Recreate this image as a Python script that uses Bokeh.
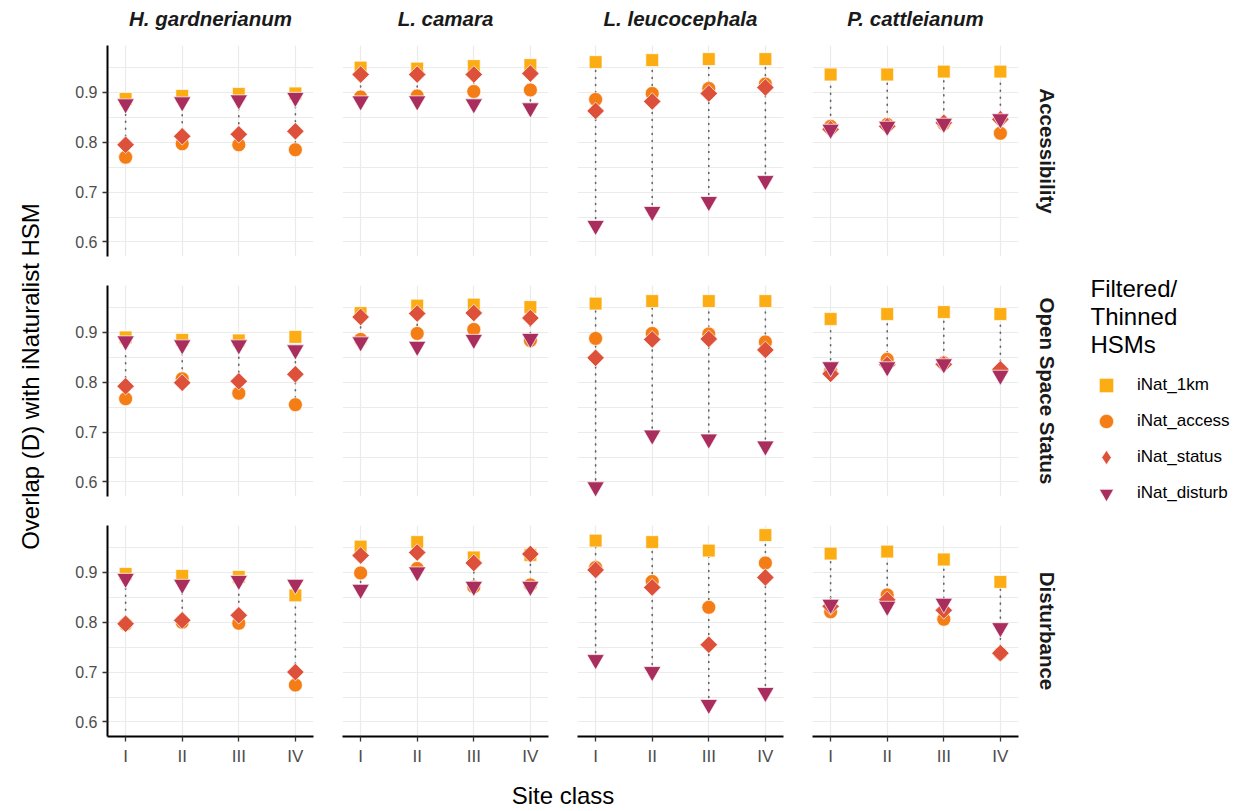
import math
from bokeh.plotting import figure
from bokeh.models import Range1d, FixedTicker, Title, Legend, LegendItem, ColumnDataSource
from bokeh.layouts import gridplot, row, column
from bokeh.embed import file_html
from bokeh.resources import INLINE
from bokeh.core.properties import value

# ---------------- data ----------------
species = ["H. gardnerianum", "L. camara", "L. leucocephala", "P. cattleianum"]
hsm_types = ["Accessibility", "Open Space Status", "Disturbance"]
site_classes = ["I", "II", "III", "IV"]
series_names = ["iNat_1km", "iNat_access", "iNat_status", "iNat_disturb"]
y_ticks = [0.6, 0.7, 0.8, 0.9]
y_tick_labels = ["0.6", "0.7", "0.8", "0.9"]
y_minor = [0.65, 0.75, 0.85, 0.95]
legend_title = ["Filtered/", "Thinned", "HSMs"]

# values ordered: species (4) x site class I..IV
acc_1km     = [0.887, 0.893, 0.897, 0.898, 0.950, 0.948, 0.953, 0.955, 0.961, 0.965, 0.967, 0.967, 0.936, 0.936, 0.942, 0.942]
acc_access  = [0.770, 0.797, 0.795, 0.785, 0.891, 0.893, 0.902, 0.905, 0.886, 0.898, 0.908, 0.917, 0.832, 0.836, 0.837, 0.818]
acc_status  = [0.795, 0.812, 0.816, 0.822, 0.936, 0.936, 0.936, 0.938, 0.863, 0.882, 0.898, 0.910, 0.826, 0.832, 0.839, 0.846]
acc_disturb = [0.877, 0.881, 0.885, 0.890, 0.883, 0.883, 0.877, 0.869, 0.633, 0.661, 0.681, 0.723, 0.826, 0.832, 0.838, 0.847]

os_1km      = [0.890, 0.885, 0.884, 0.891, 0.939, 0.954, 0.956, 0.951, 0.958, 0.963, 0.963, 0.963, 0.927, 0.937, 0.941, 0.937]
os_access   = [0.767, 0.807, 0.778, 0.755, 0.886, 0.898, 0.906, 0.884, 0.888, 0.898, 0.897, 0.881, 0.822, 0.846, 0.839, 0.825]
os_status   = [0.792, 0.799, 0.802, 0.816, 0.931, 0.938, 0.939, 0.929, 0.849, 0.886, 0.887, 0.865, 0.817, 0.835, 0.836, 0.826]
os_disturb  = [0.883, 0.875, 0.875, 0.865, 0.881, 0.872, 0.886, 0.888, 0.590, 0.694, 0.686, 0.672, 0.831, 0.831, 0.837, 0.814]

dist_1km     = [0.897, 0.893, 0.891, 0.854, 0.952, 0.961, 0.930, 0.935, 0.964, 0.961, 0.944, 0.975, 0.938, 0.942, 0.926, 0.881]
dist_access  = [0.796, 0.800, 0.798, 0.674, 0.899, 0.908, 0.871, 0.875, 0.910, 0.882, 0.830, 0.919, 0.821, 0.855, 0.806, 0.738]
dist_status  = [0.797, 0.804, 0.814, 0.700, 0.934, 0.940, 0.919, 0.937, 0.905, 0.870, 0.755, 0.890, 0.832, 0.845, 0.824, 0.738]
dist_disturb = [0.888, 0.876, 0.884, 0.876, 0.866, 0.901, 0.872, 0.872, 0.725, 0.701, 0.635, 0.659, 0.836, 0.832, 0.838, 0.789]

rows_data = [
    [acc_1km, acc_access, acc_status, acc_disturb],
    [os_1km, os_access, os_status, os_disturb],
    [dist_1km, dist_access, dist_status, dist_disturb],
]

# ---------------- style ----------------
FONT = "Liberation Sans"
colors = ["#FCAD14", "#F57D15", "#DD513A", "#A92E5E"]
markers = ["square", "circle", "square", "inverted_triangle"]
legend_markers = ["square", "circle", "diamond", "inverted_triangle"]
angles = [0.0, 0.0, math.pi / 4, 0.0]
sizes = [12.8, 14, 12.4, 17.5]
GRID = "#ebebeb"

all_vals = [v for r in rows_data for s in r for v in s]
lo, hi = min(all_vals), max(all_vals)
pad = 0.05 * (hi - lo)
ylo, yhi = lo - pad, hi + pad

xpos = [i + 1 for i in range(len(site_classes))]

FW, FH = 206, 211
GAP = 29
YLAB_W = 50
LEFT1 = 107 - YLAB_W
STRIP_H = 45
RIGHT4 = 59


def make_panel(r, c):
    left = LEFT1 if c == 0 else 15
    right = RIGHT4 if c == 3 else 14
    top = 0 if r == 0 else 15
    bottom = 34 if r == 2 else 14
    p = figure(frame_width=FW, frame_height=FH, title=None,
               min_border_left=left, min_border_right=right,
               min_border_top=top, min_border_bottom=bottom,
               x_range=Range1d(0.68, 4.32), y_range=Range1d(ylo, yhi),
               output_backend="svg", toolbar_location=None,
               background_fill_color="white", border_fill_color="white",
               outline_line_color=None)
    if c == 3:
        p.add_layout(Title(text=hsm_types[r], align="center", text_font=FONT,
                           text_font_size="20.5px", text_font_style="bold",
                           text_color="#1a1a1a", standoff=34), "right")

    xt = FixedTicker(ticks=xpos)
    yt = FixedTicker(ticks=y_ticks, minor_ticks=y_minor)
    p.xaxis.ticker = xt
    p.yaxis.ticker = yt
    p.xgrid.ticker = xt
    p.ygrid.ticker = yt
    p.xaxis.major_label_overrides = {x: s for x, s in zip(xpos, site_classes)}
    p.yaxis.major_label_overrides = {t: s for t, s in zip(y_ticks, y_tick_labels)}
    for g in (p.xgrid[0], p.ygrid[0]):
        g.grid_line_color = GRID
        g.grid_line_width = 1.2
    p.ygrid.minor_grid_line_color = GRID
    p.ygrid.minor_grid_line_width = 1.0

    for ax in (p.xaxis[0], p.yaxis[0]):
        ax.axis_line_color = "black"
        ax.axis_line_width = 2
        ax.major_tick_line_color = "#333333"
        ax.major_tick_line_width = 1.3
        ax.major_tick_in = 0
        ax.major_tick_out = 5
        ax.minor_tick_line_color = None
        ax.major_label_text_font = FONT
        ax.major_label_text_font_size = "16px"
        ax.major_label_text_color = "#4d4d4d"
        ax.major_label_standoff = 5
    p.xaxis.major_label_text_font_size = "17px"
    if r < 2:
        p.xaxis.visible = False
    if c > 0:
        p.yaxis.visible = False

    series = [s[c * 4:(c + 1) * 4] for s in rows_data[r]]
    mins = [min(vals) for vals in zip(*series)]
    maxs = [max(vals) for vals in zip(*series)]
    seg = ColumnDataSource(dict(x=xpos, y0=mins, y1=maxs))
    p.segment(x0="x", y0="y0", x1="x", y1="y1", source=seg,
              line_color="#666666", line_width=1.6, line_dash="1 6", line_cap="round")
    for k in range(4):
        p.scatter(x=xpos, y=series[k], marker=markers[k], size=sizes[k], angle=angles[k],
                  fill_color=colors[k], line_color="white", line_width=0.7)
    return p


panels = [[make_panel(r, c) for c in range(4)] for r in range(3)]
grid = gridplot(panels, toolbar_location=None)

GRID_W = (LEFT1 + FW + 14) + 2 * (15 + FW + 14) + (15 + FW + RIGHT4)
GRID_H = (0 + FH + 14) + (15 + FH + 14) + (15 + FH + 34)
XT_FW = 4 * FW + 3 * GAP

# species strip above the panels (frame spans the panel columns)
strip = figure(frame_width=XT_FW, frame_height=STRIP_H,
               min_border_left=LEFT1, min_border_right=GRID_W - LEFT1 - XT_FW,
               min_border_top=0, min_border_bottom=0,
               x_range=Range1d(0, XT_FW), y_range=Range1d(STRIP_H, 0),
               x_axis_type=None, y_axis_type=None, output_backend="svg",
               toolbar_location=None, outline_line_color=None)
strip.text(x=[FW / 2 + c * (FW + GAP) for c in range(4)], y=[18] * 4, text=species,
           text_font=value(FONT), text_font_size="20.5px", text_font_style="bold italic",
           text_align="center", text_baseline="middle", text_color="#1a1a1a")

# y-axis title strip
ylab = figure(frame_width=YLAB_W, frame_height=811, min_border=0,
              x_range=Range1d(0, YLAB_W), y_range=Range1d(811, 0),
              x_axis_type=None, y_axis_type=None, output_backend="svg",
              toolbar_location=None, outline_line_color=None)
ylab.text(x=[30], y=[STRIP_H + FH + GAP / 2 + FH / 2], text=["Overlap (D) with iNaturalist HSM"],
          angle=[math.pi / 2], text_font=value(FONT), text_font_size="24px",
          text_align="center", text_baseline="middle", text_color="black")

# x-axis title strip
XT_H = 811 - STRIP_H - GRID_H
xt_fig = figure(frame_width=XT_FW, frame_height=XT_H,
                min_border_left=LEFT1, min_border_right=GRID_W - LEFT1 - XT_FW,
                min_border_top=0, min_border_bottom=0,
                x_range=Range1d(0, 1), y_range=Range1d(XT_H, 0),
                x_axis_type=None, y_axis_type=None, output_backend="svg",
                toolbar_location=None, outline_line_color=None)
xt_fig.text(x=[0.5], y=[795 - (811 - XT_H)], text=["Site class"], text_font=value(FONT),
            text_font_size="24px", text_align="center", text_baseline="middle",
            text_color="black")

# legend panel
LEG_X0 = YLAB_W + GRID_W
LW = 1260 - LEG_X0
lg = figure(frame_width=LW, frame_height=811, min_border=0,
            x_range=Range1d(0, LW), y_range=Range1d(811, 0),
            x_axis_type=None, y_axis_type=None, output_backend="svg",
            toolbar_location=None, outline_line_color=None)
lg.extra_x_ranges = {"off": Range1d(100, 101)}
items = []
for k in range(4):
    rr = lg.scatter(x=xpos, y=rows_data[0][k][:4], x_range_name="off",
                    marker=legend_markers[k], size=sizes[k],
                    fill_color=colors[k], line_color="white", line_width=0.7)
    items.append(LegendItem(label=series_names[k], renderers=[rr]))
leg = Legend(items=items, location=(1088 - LEG_X0, 300), padding=0, spacing=0, margin=0,
             glyph_width=36, glyph_height=36, label_standoff=13,
             label_text_font=FONT, label_text_font_size="17px", label_text_color="black",
             border_line_color=None, background_fill_alpha=0)
lg.add_layout(leg)
lg.text(x=[1090 - LEG_X0] * 3, y=[288, 316, 344], text=legend_title, text_font=value(FONT),
        text_font_size="24px", text_align="left", text_baseline="middle", text_color="black")

layout = row(ylab, column(strip, grid, xt_fig), lg)
open("out.html", "w").write(file_html(layout, INLINE))
